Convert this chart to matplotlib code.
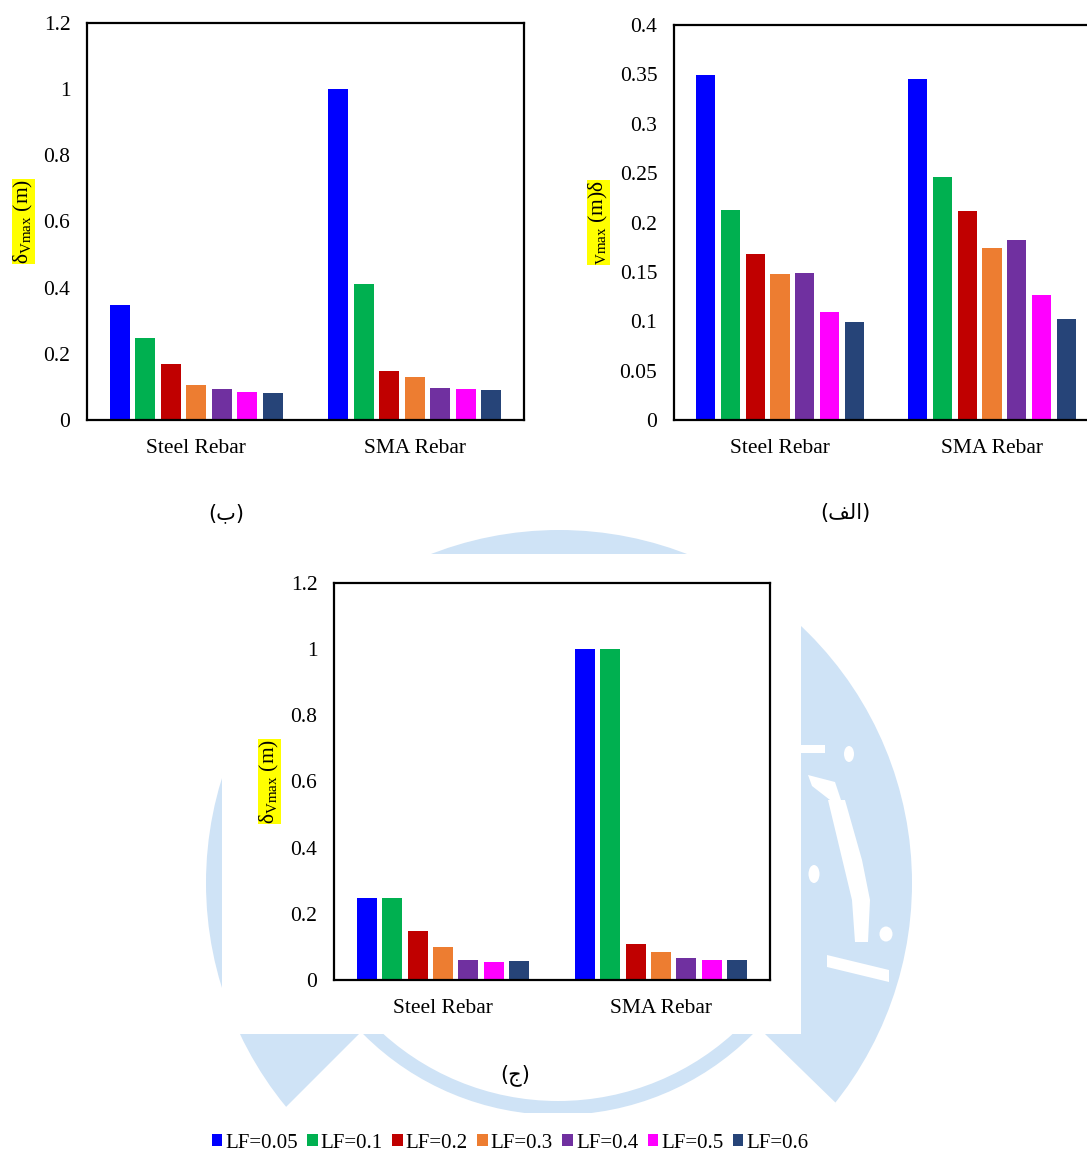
import matplotlib
matplotlib.use("Agg")
import matplotlib.pyplot as plt
from matplotlib.patches import Circle, Rectangle, Polygon, Patch, Ellipse

plt.rcParams['font.family'] = ['Liberation Serif', 'DejaVu Sans']
plt.rcParams['mathtext.fontset'] = 'custom'
plt.rcParams['mathtext.rm'] = 'Liberation Serif'
plt.rcParams['mathtext.it'] = 'Liberation Serif:italic'

# ---------------- data ----------------
categories = ["Steel Rebar", "SMA Rebar"]
series_labels = ["LF=0.05", "LF=0.1", "LF=0.2", "LF=0.3", "LF=0.4", "LF=0.5", "LF=0.6"]
colors = ["#0000FF", "#00B050", "#C00000", "#ED7D31", "#7030A0", "#FF00FF", "#264478"]

# panel (alef)  - columns: Steel, SMA
alef_values = [
    [0.349, 0.345],
    [0.213, 0.246],
    [0.168, 0.212],
    [0.148, 0.174],
    [0.149, 0.182],
    [0.109, 0.127],
    [0.099, 0.102],
]
# panel (beh)
beh_values = [
    [0.348, 1.000],
    [0.248, 0.411],
    [0.169, 0.148],
    [0.106, 0.130],
    [0.094, 0.097],
    [0.085, 0.094],
    [0.082, 0.091],
]
# panel (jeem)
jeem_values = [
    [0.248, 1.000],
    [0.248, 1.000],
    [0.148, 0.109],
    [0.100, 0.085],
    [0.060, 0.066],
    [0.055, 0.061],
    [0.056, 0.061],
]

ticks_12 = [0, 0.2, 0.4, 0.6, 0.8, 1.0, 1.2]
ticklabels_12 = ["0", "0.2", "0.4", "0.6", "0.8", "1", "1.2"]
ticks_04 = [0, 0.05, 0.1, 0.15, 0.2, 0.25, 0.3, 0.35, 0.4]
ticklabels_04 = ["0", "0.05", "0.1", "0.15", "0.2", "0.25", "0.3", "0.35", "0.4"]

W, H = 1087, 1151
fig = plt.figure(figsize=(W / 100, H / 100), dpi=100)
fig.patch.set_facecolor("white")

# ---------------- watermark background ----------------
bg = fig.add_axes([0, 0, 1, 1], zorder=-10)
bg.set_xlim(0, W)
bg.set_ylim(H, 0)
bg.axis("off")
wm = "#cfe3f6"
bg.add_patch(Circle((559, 883), 353, color=wm, lw=0))
bg.add_patch(Polygon([(359, 1034), (285, 1108), (285, 1130), (840, 1130), (841, 1108), (765, 1034)],
                     closed=True, color="white", lw=0))
ring = Circle((558, 840), 275, color=wm, lw=0)
bg.add_patch(ring)
inner = Circle((558, 840), 261, color="white", lw=0)
bg.add_patch(inner)
clip = Rectangle((0, 1034), W, 200, transform=bg.transData)
ring.set_clip_path(clip)
inner.set_clip_path(clip)
bg.add_patch(Rectangle((222, 554), 801 - 222, 1034 - 554, color="white", lw=0))
bg.add_patch(Rectangle((0, 1113), W, H - 1113, color="white", lw=0))
# calligraphy strokes on the right side of the watermark
bg.add_patch(Rectangle((801, 745), 24, 8, color="white", lw=0))
bg.add_patch(Ellipse((849, 754), 10, 16, color="white", lw=0))
bg.add_patch(Polygon([(808, 775), (835, 782), (841, 800), (830, 800), (812, 786)], color="white", lw=0))
bg.add_patch(Polygon([(828, 800), (845, 800), (862, 860), (870, 900), (868, 942), (855, 942),
                      (852, 900), (840, 850)], color="white", lw=0))
bg.add_patch(Ellipse((814, 874), 11, 18, color="white", lw=0))
bg.add_patch(Ellipse((886, 934), 13, 15, color="white", lw=0))
bg.add_patch(Polygon([(827, 955), (889, 970), (889, 982), (827, 967)], color="white", lw=0))

# ---------------- bar panels ----------------
n = len(series_labels)
spacing = 0.1167
bar_w = 0.0915
xc = [0.5, 1.5]


def draw_panel(rect, values, ymax, ticks, ticklabels, ylabel, label_x):
    ax = fig.add_axes(rect)
    ax.set_facecolor("white")
    for i in range(n):
        xs = [c + (i - (n - 1) / 2) * spacing for c in xc]
        ax.bar(xs, values[i], width=bar_w, color=colors[i], linewidth=0, zorder=2)
    ax.set_xlim(0, 2)
    ax.set_ylim(0, ymax)
    ax.set_yticks(ticks)
    ax.set_yticklabels(ticklabels)
    ax.set_xticks(xc)
    ax.set_xticklabels(categories)
    ax.tick_params(axis="both", length=0, labelsize=15.5, colors="black")
    ax.tick_params(axis="y", pad=12)
    ax.tick_params(axis="x", pad=14)
    for s in ax.spines.values():
        s.set_linewidth(1.6)
        s.set_color("black")
    ax.set_ylabel(ylabel, fontsize=15.5,
                  bbox=dict(facecolor="yellow", edgecolor="none", pad=0))
    ax.yaxis.set_label_coords(label_x, 0.5)
    return ax


draw_panel([87 / W, 1 - 420 / H, 437 / W, 397 / H], beh_values, 1.2, ticks_12, ticklabels_12,
           r"δ$_{\mathrm{Vmax}}$ (m)", -0.119)
draw_panel([674 / W, 1 - 420 / H, 424 / W, 395 / H], alef_values, 0.4, ticks_04, ticklabels_04,
           r"${}_{\mathrm{Vmax}}$ (m)δ", -0.151)
draw_panel([334 / W, 1 - 980 / H, 436 / W, 397 / H], jeem_values, 1.2, ticks_12, ticklabels_12,
           r"δ$_{\mathrm{Vmax}}$ (m)", -0.1216)

# ---------------- captions ----------------
cap_kw = dict(ha="center", va="center", fontsize=15, family=["DejaVu Sans"])
fig.text(226 / W, 1 - 513 / H, "(\ufe8f)", **cap_kw)
fig.text(845 / W, 1 - 513 / H, "(\ufed2\ufedf\ufe8d)", **cap_kw)
fig.text(515 / W, 1 - 1075 / H, "(\ufe9d)", **cap_kw)

# ---------------- legend ----------------
handles = [Patch(facecolor=c, edgecolor="none") for c in colors]
fig.legend(handles, series_labels, loc="center", bbox_to_anchor=(510 / W, 1 - 1143 / H),
           ncol=7, frameon=False, fontsize=15, handlelength=0.5, handleheight=0.5,
           handletextpad=0.15, columnspacing=0.45, borderaxespad=0)

fig.savefig("out.png", dpi=100, facecolor="white")
